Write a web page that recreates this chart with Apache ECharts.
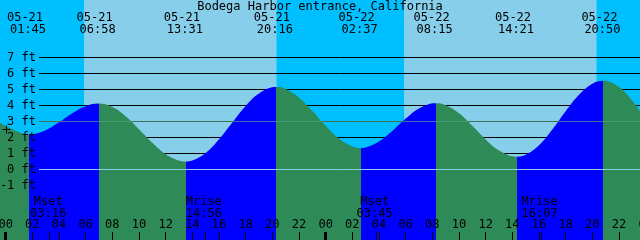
<!DOCTYPE html>
<html><head><meta charset="utf-8">
<script src="https://cdn.jsdelivr.net/npm/echarts@6/dist/echarts.min.js"></script>
<style>html,body{margin:0;padding:0;background:#fff}#c{width:640px;height:240px}</style>
</head><body><div id="c"></div>
<script>
// ---- data (hours counted from 05-21 00:00) ----
const chartTitle = 'Bodega Harbor entrance, California';
const viewStart = -0.425, viewEnd = 47.575;

const tideHours = [-0.425, 0, 1, 1.75, 3, 4, 5, 6, 6.967, 8, 9, 10, 11, 12, 13, 13.517, 14, 15, 16, 17, 18, 19, 20.267,
  21, 22, 23, 24, 25, 26, 26.617, 27, 28, 29, 30, 31, 32.25, 33, 34, 35, 36, 37, 38.35, 39, 40, 41, 42, 43, 44, 44.833,
  46, 47, 47.575];
const tideFeet = [2.9, 2.72, 2.33, 2.2, 2.46, 2.95, 3.52, 3.96, 4.12, 3.9, 3.33, 2.52, 1.67, 0.96, 0.56, 0.5, 0.56, 1.03, 1.89, 2.94, 3.97, 4.75, 5.15,
  5.03, 4.49, 3.66, 2.73, 1.93, 1.44, 1.35, 1.38, 1.75, 2.41, 3.18, 3.82, 4.14, 4.02, 3.51, 2.73, 1.88, 1.19, 0.8, 0.92, 1.52, 2.5, 3.64, 4.67, 5.36, 5.55,
  5.16, 4.3, 3.65];

const extremeHours = [1.75, 6.967, 13.517, 20.267, 26.617, 32.25, 38.35, 44.833];
const extremeKinds = ['low', 'high', 'low', 'high', 'low', 'high', 'low', 'high'];
const extremeDates = ['05-21', '05-21', '05-21', '05-21', '05-22', '05-22', '05-22', '05-22'];
const extremeTimes = ['01:45', '06:58', '13:31', '20:16', '02:37', '08:15', '14:21', '20:50'];

const sunriseHours = [5.88, 29.88];
const sunsetHours = [20.33, 44.33];

const moonHours = [3.267, 14.933, 27.75, 40.117];
const moonEvents = ['Mset', 'Mrise', 'Mset', 'Mrise'];
const moonTimes = ['03:16', '14:56', '03:45', '16:07'];

const gridFeet = [-1, 0, 1, 2, 3, 4, 5, 6, 7];   // horizontal grid lines (ft)
const refLevels = [0, 3];                         // datum and mid level lines (ft)
const markHours = [0], markFeet = [2.53];

// ---- styles ----
const FONT = 'DejaVu Sans Mono';
const C_DAY = '#87CEEB', C_NIGHT = '#00BFFF', C_FLOOD = '#0000FF', C_EBB = '#2E8B57';
const LINE_X0 = 39;

const tideData = tideHours.map((t, i) => [t, tideFeet[i]]);

// sky intervals
const skyData = [];
let prev = viewStart;
for (let i = 0; i < sunriseHours.length; i++) {
  skyData.push([prev, sunriseHours[i], 0]);
  skyData.push([sunriseHours[i], sunsetHours[i], 1]);
  prev = sunsetHours[i];
}
skyData.push([prev, viewEnd, 0]);

// flood/ebb pieces
const pieces = [];
pieces.push({ lte: extremeHours[0], color: extremeKinds[0] === 'low' ? C_EBB : C_FLOOD });
for (let i = 0; i < extremeHours.length; i++) {
  const p = { gt: extremeHours[i], color: extremeKinds[i] === 'low' ? C_FLOOD : C_EBB };
  if (i + 1 < extremeHours.length) p.lte = extremeHours[i + 1];
  pieces.push(p);
}

const chart = echarts.init(document.getElementById('c'), null, { renderer: 'canvas' });
const txt = (text, x, y) => ({ type: 'text', x, y, style: { text, fontFamily: FONT, fontSize: 12, fill: '#000', align: 'center', verticalAlign: 'middle' } });
const hLine = (color) => (params, api) => {
  const y = Math.round(api.coord([0, api.value(1)])[1] - 0.5) + 0.5;
  return { type: 'line', shape: { x1: LINE_X0, y1: y, x2: params.coordSys.x + params.coordSys.width, y2: y },
    style: { stroke: typeof color === 'function' ? color(api.value(1)) : color, lineWidth: 1 } };
};

chart.setOption({
  animation: false,
  backgroundColor: C_NIGHT,
  grid: [
    { left: 0, right: 0, top: 0, bottom: 0, outerBoundsMode: 'none', containLabel: false },
    { left: LINE_X0, right: 0, top: 57.5, bottom: 6.5, outerBoundsMode: 'none', containLabel: false },
    { left: 5.6667, right: -5.6667, top: 0, bottom: 0, outerBoundsMode: 'none', containLabel: false }
  ],
  xAxis: [
    { gridIndex: 0, type: 'value', min: viewStart, max: viewEnd, show: false },
    { gridIndex: 1, type: 'value', min: 0, max: 1, show: false },
    { gridIndex: 2, type: 'value', position: 'bottom', min: 0, max: 48, interval: 2, z: 6,
      axisLine: { show: false }, splitLine: { show: false },
      axisTick: { show: true, inside: true, length: 8, lineStyle: { color: '#000', width: 1 } },
      axisLabel: { show: true, inside: true, margin: 9, color: '#000', fontFamily: FONT, fontSize: 12,
        showMinLabel: true, showMaxLabel: true, hideOverlap: false,
        formatter: v => String(v % 24).padStart(2, '0') } },
    { gridIndex: 2, type: 'value', position: 'bottom', min: 0, max: 48, interval: 24, z: 7,
      axisLine: { show: false }, splitLine: { show: false }, axisLabel: { show: false },
      axisTick: { show: true, inside: true, length: 8, lineStyle: { color: '#000', width: 3 } } }
  ],
  yAxis: [
    { gridIndex: 0, type: 'value', min: -4.40625, max: 10.59375, show: false },
    { gridIndex: 1, type: 'value', min: -4, max: 7, interval: 1, z: 6, position: 'left',
      axisLine: { show: false }, axisTick: { show: false }, splitLine: { show: false },
      axisLabel: { show: true, margin: 3, color: '#000', fontFamily: FONT, fontSize: 12,
        formatter: v => (v >= -1 ? v + ' ft' : '') } },
    { gridIndex: 2, type: 'value', min: 0, max: 1, show: false }
  ],
  visualMap: [{ type: 'piecewise', show: false, seriesIndex: 2, dimension: 0, pieces }],
  graphic: [{ type: 'text', left: 'center', top: 1, z: 10,
    style: { text: chartTitle, fontFamily: FONT, fontSize: 12, fill: '#000' } }],
  series: [
    { type: 'custom', xAxisIndex: 0, yAxisIndex: 0, z: 0, silent: true,
      encode: { x: [0, 1], y: 2 }, data: skyData,
      renderItem: (params, api) => {
        const x0 = api.coord([api.value(0), 0])[0], x1 = api.coord([api.value(1), 0])[0];
        return { type: 'rect', shape: { x: x0, y: params.coordSys.y, width: x1 - x0, height: params.coordSys.height },
          style: { fill: api.value(2) ? C_DAY : C_NIGHT } };
      } },
    { type: 'custom', xAxisIndex: 0, yAxisIndex: 0, z: 1, silent: true,
      data: gridFeet.map(h => [viewStart, h]), renderItem: hLine('#000') },
    { type: 'line', xAxisIndex: 0, yAxisIndex: 0, z: 2, silent: true, data: tideData,
      smooth: 0.4, showSymbol: false, lineStyle: { width: 0 },
      areaStyle: { opacity: 1, origin: 'start' } },
    { type: 'custom', xAxisIndex: 0, yAxisIndex: 0, z: 3, silent: true,
      data: refLevels.map(h => [viewStart, h]),
      renderItem: hLine(v => (v === 0 ? '#8ecfee' : 'rgba(90,160,130,0.7)')) },
    { type: 'custom', xAxisIndex: 0, yAxisIndex: 0, z: 6, silent: true,
      data: extremeHours.map(t => [t, 0]),
      renderItem: (params, api) => {
        const i = params.dataIndex, x = api.coord([api.value(0), 0])[0];
        return { type: 'group', children: [txt(extremeDates[i], x - 4, 18), txt(extremeTimes[i], x - 1, 30)] };
      } },
    { type: 'custom', xAxisIndex: 0, yAxisIndex: 0, z: 6, silent: true,
      data: moonHours.map(t => [t, 0]),
      renderItem: (params, api) => {
        const i = params.dataIndex, x = api.coord([api.value(0), 0])[0];
        const xl = Math.round(x) + 0.5, b = params.coordSys.y + params.coordSys.height;
        return { type: 'group', children: [
          txt(moonEvents[i], x - 1, 202), txt(moonTimes[i], x - 1, 214),
          { type: 'line', shape: { x1: xl, y1: b - 8, x2: xl, y2: b }, style: { stroke: '#000', lineWidth: 1 } }
        ] };
      } },
    { type: 'custom', xAxisIndex: 0, yAxisIndex: 0, z: 6, silent: true,
      data: markHours.map((t, i) => [t, markFeet[i]]),
      renderItem: (params, api) => {
        const p = api.coord([api.value(0), api.value(1)]);
        const cx = Math.round(p[0]) + 0.5, cy = Math.round(p[1]) + 0.5;
        return { type: 'group', children: [
          { type: 'line', shape: { x1: cx - 4, y1: cy, x2: cx + 4, y2: cy }, style: { stroke: '#000', lineWidth: 1 } },
          { type: 'line', shape: { x1: cx, y1: cy - 4, x2: cx, y2: cy + 4 }, style: { stroke: '#000', lineWidth: 1 } }
        ] };
      } }
  ]
});
</script>
</body></html>
